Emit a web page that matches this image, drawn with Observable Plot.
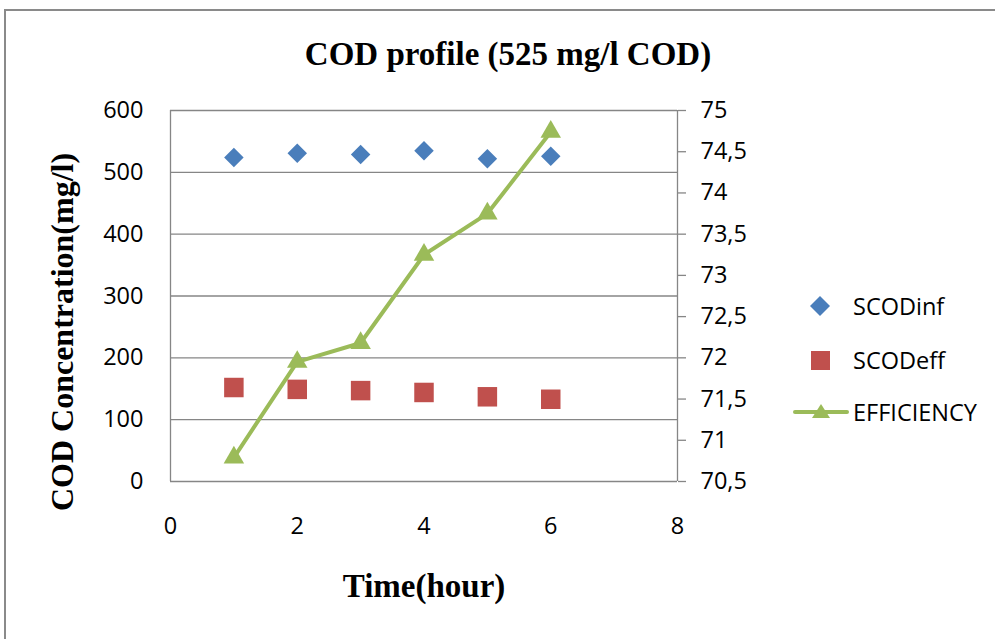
<!DOCTYPE html>
<html>
<head>
<meta charset="utf-8">
<script src="https://cdn.jsdelivr.net/npm/d3@7"></script>
<script src="https://cdn.jsdelivr.net/npm/@observablehq/plot@0.6"></script>
<style>
  html, body { margin: 0; padding: 0; background: #fff; }
  #wrap { position: relative; width: 995px; height: 639px; overflow: hidden; background: #fff; }
  #border { position: absolute; left: 4px; top: 9px; width: 1100px; height: 800px; border: 2px solid #8a8a8a; box-sizing: border-box; }
  #chart { position: absolute; left: 0; top: 0; }
  .serif { position: absolute; font-family: "Liberation Serif", "Times New Roman", serif; font-weight: bold; color: #000; white-space: nowrap; }
  #title { left: 508px; top: 54px; font-size: 33px; transform: translate(-50%, -50%); }
  #xlabel { left: 424px; top: 586px; font-size: 33px; transform: translate(-50%, -50%); }
  #ylabel { left: 62px; top: 332px; font-size: 32px; transform: translate(-50%, -50%) rotate(-90deg); }
  .leg { position: absolute; font-family: "Open Sans", sans-serif; font-size: 23.5px; color: #000; white-space: nowrap; transform: translateY(-50%); }
  .legsym { position: absolute; }
</style>
</head>
<body>
<div id="wrap">
  <div id="border"></div>
  <div id="chart"></div>
  <div class="serif" id="title">COD profile (525 mg/l COD)</div>
  <div class="serif" id="xlabel">Time(hour)</div>
  <div class="serif" id="ylabel">COD Concentration(mg/l)</div>
  <div id="legend"></div>
</div>
<script>
// ---- data ----
const hours = [1, 2, 3, 4, 5, 6];
const scodInf = [524, 531, 529, 535, 522, 526];
const scodEff = [152, 149, 147, 144, 137, 133];
const efficiency = [70.79, 71.95, 72.18, 73.25, 73.75, 74.74];
const seriesNames = ["SCODinf", "SCODeff", "EFFICIENCY"];
const seriesColors = ["#4A7EBB", "#C0504D", "#9BBB59"];
const xTicks = [0, 2, 4, 6, 8];
const leftTicks = [0, 100, 200, 300, 400, 500, 600];
const rightTicks = [70.5, 71, 71.5, 72, 72.5, 73, 73.5, 74, 74.5, 75];

// ---- scales for secondary axis ----
const rMin = rightTicks[0], rMax = rightTicks[rightTicks.length - 1];
const lMax = leftTicks[leftTicks.length - 1];
const toLeft = e => (e - rMin) / (rMax - rMin) * lMax;
const fmtComma = v => String(v).replace(".", ",");

const inf = hours.map((h, i) => ({h, v: scodInf[i]}));
const eff = hours.map((h, i) => ({h, v: scodEff[i]}));
const effi = hours.map((h, i) => ({h, v: toLeft(efficiency[i])}));

const W = 995, H = 639;
const FS = 23.5;
const plot = Plot.plot({
  width: W, height: H,
  marginLeft: 170, marginRight: 318, marginTop: 110, marginBottom: 158,
  style: {fontFamily: "Open Sans, sans-serif", fontSize: FS + "px", color: "#000", background: "transparent"},
  x: {domain: [0, 8]},
  y: {domain: [0, lMax]},
  marks: [
    Plot.ruleY(leftTicks, {stroke: "#868686", strokeWidth: 1.3, strokeOpacity: 1}),
    Plot.ruleX([0, 8], {stroke: "#868686", strokeWidth: 1.3, strokeOpacity: 1}),
    Plot.axisY({ticks: leftTicks, tickSize: 0, tickPadding: 27, label: null, fontSize: FS}),
    Plot.axisY({anchor: "right", ticks: rightTicks.map(toLeft), tickFormat: (d, i) => fmtComma(rightTicks[i]), tickSize: 8, tickPadding: 15, label: null, stroke: "#868686", strokeWidth: 1.3, strokeOpacity: 1, fontSize: FS}),
    Plot.axisX({ticks: xTicks, tickSize: 0, tickPadding: 36, label: null, fontSize: FS}),
    Plot.line(effi, {x: "h", y: "v", stroke: seriesColors[2], strokeWidth: 4}),
    Plot.dot(effi, {x: "h", y: "v", symbol: "triangle", fill: seriesColors[2], r: 7.6, stroke: "none"}),
    Plot.dot(inf, {x: "h", y: "v", symbol: "diamond2", fill: seriesColors[0], r: 8.8, stroke: "none"}),
    Plot.dot(eff, {x: "h", y: "v", symbol: "square", fill: seriesColors[1], r: 11, stroke: "none"})
  ]
});
document.getElementById("chart").appendChild(plot);

// ---- legend ----
const legend = document.getElementById("legend");
const legY = [306, 360, 412];
const symSvg = [
  `<svg width="40" height="24"><path d="M20,2 L30,12 L20,22 L10,12 Z" fill="${seriesColors[0]}"/></svg>`,
  `<svg width="40" height="24"><rect x="11" y="3" width="19" height="19" fill="${seriesColors[1]}"/></svg>`,
  `<svg width="60" height="24"><line x1="4" y1="12" x2="56" y2="12" stroke="${seriesColors[2]}" stroke-width="4" stroke-linecap="round"/><path d="M30,4 L39,18 L21,18 Z" fill="${seriesColors[2]}"/></svg>`
];
seriesNames.forEach((name, i) => {
  const s = document.createElement("div");
  s.className = "legsym";
  s.innerHTML = symSvg[i];
  s.style.left = (i === 2 ? 791 : 800) + "px";
  s.style.top = (legY[i] - 12) + "px";
  legend.appendChild(s);
  const t = document.createElement("div");
  t.className = "leg";
  t.textContent = name;
  t.style.left = (i === 2 ? 853 : 853) + "px";
  t.style.top = legY[i] + "px";
  legend.appendChild(t);
});
</script>
</body>
</html>
